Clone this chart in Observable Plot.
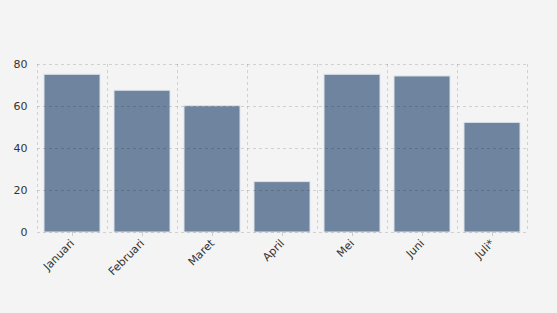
<!DOCTYPE html>
<html>
<head>
<meta charset="utf-8">
<script src="https://cdn.jsdelivr.net/npm/d3@7"></script>
<script src="https://cdn.jsdelivr.net/npm/@observablehq/plot@0.6"></script>
<style>
  html, body { margin: 0; padding: 0; background: #f4f4f4; }
  #chart { width: 557px; height: 313px; }
</style>
</head>
<body>
<div id="chart"></div>
<script>
const months = ["Januari", "Februari", "Maret", "April", "Mei", "Juni", "Juli*"];
const values = [75.1, 67.5, 60.1, 24.0, 75.1, 74.3, 52.2];
const yTicks = [0, 20, 40, 60, 80];

const data = months.map((m, i) => ({month: m, value: values[i]}));

const gridColor = "#000";
const gridOpacity = 0.14;
const dash = "3,3";
const step = 70;

const chart = Plot.plot({
  width: 557,
  height: 313,
  marginTop: 64,
  marginBottom: 81,
  marginLeft: 37,
  marginRight: 30,
  style: {background: "#f4f4f4", fontFamily: "DejaVu Sans, Verdana, sans-serif", fontSize: "11px"},
  x: {domain: months, paddingInner: 0.2, paddingOuter: 0.1, label: null},
  y: {domain: [0, 80], label: null},
  marks: [
    Plot.barY(data, {x: "month", y: "value", fill: "#6f849e", stroke: "#dce2ea", strokeWidth: 1}),
    Plot.gridY(yTicks, {stroke: gridColor, strokeOpacity: gridOpacity, strokeDasharray: dash}),
    Plot.ruleX(months, {x: d => d, dx: -step / 2, stroke: gridColor, strokeOpacity: gridOpacity, strokeDasharray: dash}),
    Plot.ruleX([months[months.length - 1]], {x: d => d, dx: step / 2, stroke: gridColor, strokeOpacity: gridOpacity, strokeDasharray: dash}),
    Plot.axisY({ticks: yTicks, tickSize: 0, tickPadding: 10, fill: "#333", label: null}),
    Plot.axisX({tickSize: 4, tickPadding: 5, tickRotate: -45, stroke: "#cccccc", fill: "#333", label: null})
  ]
});

document.getElementById("chart").appendChild(chart);
</script>
</body>
</html>
